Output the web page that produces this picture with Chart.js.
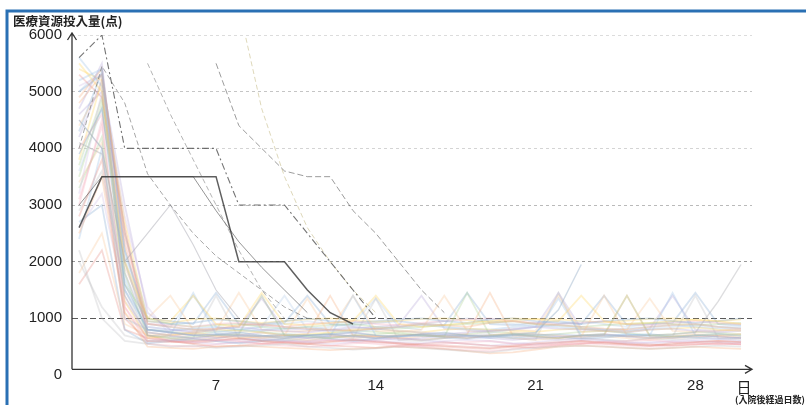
<!DOCTYPE html>
<html lang="ja">
<head>
<meta charset="utf-8">
<title>医療資源投入量の推移</title>
<script src="https://cdn.jsdelivr.net/npm/chart.js@4.4.1/dist/chart.umd.min.js"></script>
<style>
  html, body { margin: 0; padding: 0; background: #fff; }
  #wrap { width: 806px; height: 405px; position: relative; }
</style>
</head>
<body>
<div id="wrap"><canvas id="c" width="806" height="405"></canvas></div>
<script>
// 入院後経過日数
const days = [1,2,3,4,5,6,7,8,9,10,11,12,13,14,15,16,17,18,19,20,21,22,23,24,25,26,27,28,29,30];
const xTickValues = [7, 14, 21, 28];
const yTickValues = [0, 1000, 2000, 3000, 4000, 5000, 6000];
const N = null;

// 長期に高い投入量が続く症例
const caseA = [5600,6000,4000,4000,4000,4000,4000,3000,3000,3000,2500,2000,1500,1000,N,N,N,N,N,N,N,N,N,N,N,N,N,N,N,N];
const caseB = [2600,3500,3500,3500,3500,3500,3500,2000,2000,2000,1500,1100,900,N,N,N,N,N,N,N,N,N,N,N,N,N,N,N,N,N];
const caseC = [4000,5450,4800,3550,3000,2500,2100,1800,1500,1200,1000,N,N,N,N,N,N,N,N,N,N,N,N,N,N,N,N,N,N,N];
const caseD = [N,N,N,5500,4600,3800,3000,2200,1500,1000,N,N,N,N,N,N,N,N,N,N,N,N,N,N,N,N,N,N,N,N];
const caseE = [N,N,N,N,N,N,5500,4400,4000,3600,3500,3500,2900,2500,2000,1500,1100,N,N,N,N,N,N,N,N,N,N,N,N,N];
const caseF = [N,N,N,N,N,N,N,6500,4700,3500,2600,2000,1500,1100,N,N,N,N,N,N,N,N,N,N,N,N,N,N,N,N];
const caseG = [4500,4000,2000,2500,3000,2300,1500,1000,N,N,N,N,N,N,N,N,N,N,N,N,N,N,N,N,N,N,N,N,N,N];
const caseH = [3000,3500,3500,3500,3500,3500,2900,2350,1900,1500,1100,N,N,N,N,N,N,N,N,N,N,N,N,N,N,N,N,N,N,N];
const caseJ = [3900,4700,1600,800,750,700,720,750,700,680,700,720,750,700,680,720,750,700,680,720,750,1150,1950,N,N,N,N,N,N,N];
const caseK = [4100,3900,1400,700,680,650,700,720,680,650,700,720,680,650,700,720,680,650,700,720,680,650,700,720,680,700,720,750,1300,1950];

// 通常経過の症例
const b01 = [5200,5400,1500,800,750,700,720,680,700,650,700,720,680,650,700,690,720,700,680,650,700,720,690,700,710,680,650,700,720,690];
const b02 = [4800,5300,2500,900,850,800,820,880,900,850,820,800,780,820,850,900,880,850,920,950,900,880,850,820,800,850,880,900,850,820];
const b03 = [3000,4500,1200,650,600,580,620,600,550,580,600,620,580,550,500,520,550,580,600,550,520,540,560,580,600,620,580,560,540,550];
const b04 = [5500,5000,2000,1000,950,1400,900,850,1450,900,880,920,950,1400,900,850,880,920,950,1000,980,950,1400,950,900,920,950,980,950,900];
const b05 = [2200,1000,600,550,500,520,480,500,520,550,500,480,450,470,500,480,450,420,400,450,480,500,520,500,480,460,480,500,520,500];
const b06 = [4200,5200,3000,1100,800,750,800,850,800,780,750,800,850,820,780,750,720,750,780,800,850,820,800,780,750,800,820,780,750,780];
const b07 = [3500,4800,1800,700,650,680,700,720,1400,700,680,650,700,720,750,700,680,1450,700,720,680,650,700,720,1400,700,680,700,720,700];
const b08 = [2800,3800,1000,600,580,600,620,650,600,580,560,600,620,580,560,540,520,500,480,520,560,580,600,560,540,520,560,580,600,580];
const b09 = [5000,5300,2200,950,900,920,980,950,900,950,1000,950,920,950,980,1000,950,920,980,1000,950,920,900,950,980,1000,950,920,950,1000];
const b10 = [1800,2500,900,700,720,750,700,680,650,700,1350,700,650,680,700,720,680,650,700,750,720,700,680,1400,700,650,680,720,700,680];
const b11 = [4500,4000,1500,850,800,820,780,750,800,850,820,780,750,800,850,900,850,800,750,800,850,880,850,800,780,820,850,880,850,820];
const b12 = [3200,5000,2800,1200,700,650,600,620,640,600,580,620,640,600,580,560,600,620,600,560,540,580,620,600,560,580,600,620,640,600];
const b13 = [5600,5100,1700,750,700,1450,720,700,680,720,700,680,1400,700,680,720,700,680,650,700,720,1350,700,680,720,700,1450,700,680,N];
const b14 = [2500,3500,1100,500,480,460,500,520,500,480,460,440,460,480,500,480,460,420,380,400,450,500,520,500,480,460,480,500,480,460];
const b15 = [4000,4600,2400,900,880,850,900,920,880,850,900,920,950,900,880,920,950,980,1000,950,920,900,920,950,900,880,920,950,920,900];
const b16 = [3800,5200,1300,650,700,750,800,780,750,700,720,750,800,820,780,750,800,820,800,780,760,800,820,780,760,800,820,840,800,780];
const b17 = [2000,1200,700,600,620,650,1400,650,620,600,650,680,650,1350,620,600,650,680,700,650,620,1450,650,620,600,650,680,1400,650,620];
const b18 = [4700,5500,2000,800,750,700,650,700,750,700,650,680,700,650,620,650,700,680,650,620,650,680,700,720,680,650,680,700,680,650];
const b19 = [3300,4200,1600,1000,900,850,880,900,850,820,850,880,900,850,820,850,880,900,920,950,900,880,850,880,900,920,900,880,900,920];
const b20 = [5300,4900,2600,700,600,550,500,520,550,580,550,520,500,480,520,550,580,550,520,500,480,520,550,580,560,540,520,540,560,540];
const b21 = [2700,3000,800,560,600,640,600,560,600,640,680,640,600,640,680,700,660,640,680,700,720,680,640,660,700,720,680,660,640,660];
const b22 = [4400,5100,1900,1000,1400,800,780,1450,800,760,780,800,1400,780,760,800,1400,780,760,800,780,1400,760,780,800,1350,780,760,780,800];
const b23 = [3600,4700,2100,900,850,800,750,800,850,900,950,900,850,800,850,900,950,1000,950,900,850,900,950,900,850,900,950,900,850,880];
const b24 = [5100,5300,1400,600,620,580,550,580,620,600,580,550,580,620,650,620,580,550,520,550,580,620,650,620,580,560,580,600,580,560];
const b25 = [2400,4000,1000,800,780,820,850,800,780,820,850,800,780,820,850,880,850,820,800,850,880,850,820,800,820,850,880,850,820,850];
const b26 = [4900,5400,2300,750,700,720,680,650,680,700,720,1400,700,680,650,680,700,720,1450,700,680,650,680,700,1400,680,650,680,700,720];
const b27 = [3100,4400,1200,550,520,500,540,580,560,520,500,520,560,580,540,500,460,440,420,460,500,540,560,540,520,500,520,540,560,540];
const b28 = [5400,5200,2700,950,920,980,1000,950,920,950,980,1000,970,940,960,990,1000,970,940,960,990,980,950,930,960,990,1000,970,950,980];
const b29 = [2900,3600,1500,700,650,600,650,700,650,620,600,650,700,680,650,620,650,700,720,680,650,620,650,700,680,650,620,650,680,650];
const b30 = [4600,5000,1800,850,800,780,820,850,1350,820,800,780,820,850,880,1400,820,800,780,820,850,1450,820,800,780,820,1400,800,780,820];
const b31 = [3700,4900,2000,800,760,720,760,800,760,720,700,740,780,760,720,700,680,720,760,740,700,720,760,780,740,700,720,760,740,720];
const b32 = [1600,2200,800,650,600,560,600,640,600,560,540,580,620,600,560,520,500,480,460,500,540,560,600,580,540,520,540,580,600,580];
const b33 = [4300,5350,2500,1000,950,900,1450,900,880,920,1400,900,880,920,950,900,880,1450,900,880,920,950,900,1400,880,900,920,1450,900,880];
const b34 = [3400,4100,1100,680,640,620,660,700,680,650,620,660,700,680,650,620,660,700,680,650,620,660,700,680,650,620,660,700,680,650];
const b35 = [5000,5400,2200,900,850,1400,850,800,850,1400,800,850,900,1350,850,800,N,N,N,N,N,N,N,N,N,N,N,N,N,N];
const b36 = [2600,3200,1300,750,700,650,700,750,1400,700,650,700,750,700,N,N,N,N,N,N,N,N,N,N,N,N,N,N,N,N];

const bandSeries = [b01,b02,b03,b04,b05,b06,b07,b08,b09,b10,b11,b12,b13,b14,b15,b16,b17,b18,
                    b19,b20,b21,b22,b23,b24,b25,b26,b27,b28,b29,b30,b31,b32,b33,b34,b35,b36];

const pastel = [
  'rgba(150,190,228,0.30)', 'rgba(244,170,120,0.30)', 'rgba(245,170,185,0.30)',
  'rgba(255,214,95,0.32)',  'rgba(185,185,190,0.30)', 'rgba(175,160,212,0.30)',
  'rgba(165,205,140,0.30)', 'rgba(225,115,105,0.26)', 'rgba(125,165,210,0.30)',
  'rgba(250,195,145,0.30)', 'rgba(195,215,238,0.40)', 'rgba(205,185,228,0.30)'
];

// 高値症例の線の見た目
const caseStyles = [
  { data: caseA, color: 'rgba(70,70,70,0.75)',    width: 1.1, dash: [7,3,2,3] },
  { data: caseB, color: 'rgba(55,55,55,0.8)',     width: 1.5, dash: [] },
  { data: caseC, color: 'rgba(110,110,110,0.6)',  width: 1.0, dash: [5,3] },
  { data: caseD, color: 'rgba(120,120,120,0.55)', width: 1.0, dash: [5,3] },
  { data: caseE, color: 'rgba(90,90,90,0.6)',     width: 1.0, dash: [6,3] },
  { data: caseF, color: 'rgba(200,190,140,0.6)',  width: 1.0, dash: [5,3] },
  { data: caseG, color: 'rgba(170,170,180,0.5)',  width: 1.1, dash: [] },
  { data: caseH, color: 'rgba(80,80,80,0.6)',     width: 1.0, dash: [] },
  { data: caseJ, color: 'rgba(150,175,200,0.45)', width: 1.4, dash: [] },
  { data: caseK, color: 'rgba(180,180,185,0.45)', width: 1.4, dash: [] }
];

const datasets = [];
caseStyles.forEach((s, i) => datasets.push({
  data: s.data, borderColor: s.color, borderWidth: s.width, borderDash: s.dash, order: i
}));
bandSeries.forEach((d, i) => datasets.push({
  data: d, borderColor: pastel[i % pastel.length], borderWidth: 1.8, borderDash: [], order: 20 + i
}));

const gridColors = ['rgba(0,0,0,0)', 'rgba(60,60,60,0.85)', 'rgba(110,110,110,0.7)',
                    'rgba(140,140,140,0.6)', 'rgba(170,170,170,0.5)', 'rgba(150,150,150,0.55)',
                    'rgba(185,185,185,0.5)'];

const decor = {
  id: 'decor',
  beforeDraw(chart) {
    const c = chart.ctx;
    c.save();
    c.fillStyle = '#ffffff';
    c.fillRect(0, 0, chart.width, chart.height);
    c.restore();
  },
  afterDraw(chart) {
    const c = chart.ctx;
    const xs = chart.scales.x, ys = chart.scales.y;
    const ax = xs.left;
    const ay = ys.getPixelForValue(100);
    const top = ys.top - 2;
    const right = xs.right;
    c.save();
    // 軸（矢印付き）
    c.strokeStyle = '#333';
    c.lineWidth = 1.3;
    c.beginPath();
    c.moveTo(ax, ay); c.lineTo(ax, top);
    c.moveTo(ax - 4.5, top + 7); c.lineTo(ax, top); c.lineTo(ax + 4.5, top + 7);
    c.moveTo(ax, ay); c.lineTo(right, ay);
    c.moveTo(right - 7, ay - 4); c.lineTo(right, ay); c.lineTo(right - 7, ay + 4);
    c.stroke();
    // 軸タイトル
    c.fillStyle = '#222';
    c.font = 'bold 12.5px "Noto Sans CJK JP"';
    c.textAlign = 'left'; c.textBaseline = 'middle';
    c.fillText('医療資源投入量(点)', 13, 21);
    c.font = '15px "Noto Sans CJK JP"';
    c.textAlign = 'center';
    c.fillText('日', 744, 387);
    c.font = 'bold 9px "Noto Sans CJK JP"';
    c.fillText('(入院後経過日数)', 770, 400);
    // 外枠
    c.strokeStyle = '#2a70b4';
    c.lineWidth = 3;
    c.beginPath();
    c.moveTo(7, 420); c.lineTo(7, 11); c.lineTo(820, 11);
    c.stroke();
    c.restore();
  }
};

new Chart(document.getElementById('c'), {
  type: 'line',
  data: { labels: days, datasets },
  plugins: [decor],
  options: {
    responsive: false,
    animation: false,
    devicePixelRatio: 1,
    layout: { padding: { left: 0, right: 54, top: 35, bottom: 0 } },
    elements: { point: { radius: 0 }, line: { tension: 0 } },
    spanGaps: false,
    plugins: { legend: { display: false }, tooltip: { enabled: false }, title: { display: false } },
    scales: {
      x: {
        type: 'linear',
        min: 0.69, max: 30.48,
        afterBuildTicks: s => { s.ticks = xTickValues.map(v => ({ value: v })); },
        afterFit: s => { s.height = 30; s.paddingLeft = 0; s.paddingRight = 0; },
        grid: { display: false, drawTicks: false },
        border: { display: false },
        ticks: { padding: 2, color: '#222', font: { family: 'Liberation Sans', size: 15 },
                 callback: v => String(v) }
      },
      y: {
        min: 0, max: 6000,
        afterBuildTicks: s => { s.ticks = yTickValues.map(v => ({ value: v })); },
        afterFit: s => { s.width = 72; s.paddingTop = 0; s.paddingBottom = 0; },
        grid: { drawTicks: false, lineWidth: 1, color: ctx => gridColors[ctx.index] || '#bbb' },
        border: { display: false, dash: ctx => (ctx.index === 1 ? [6, 3] : [3, 3]) },
        ticks: { padding: 10, color: '#222', font: { family: 'Liberation Sans', size: 15 },
                 callback: v => String(v) }
      }
    }
  }
});
</script>
</body>
</html>
